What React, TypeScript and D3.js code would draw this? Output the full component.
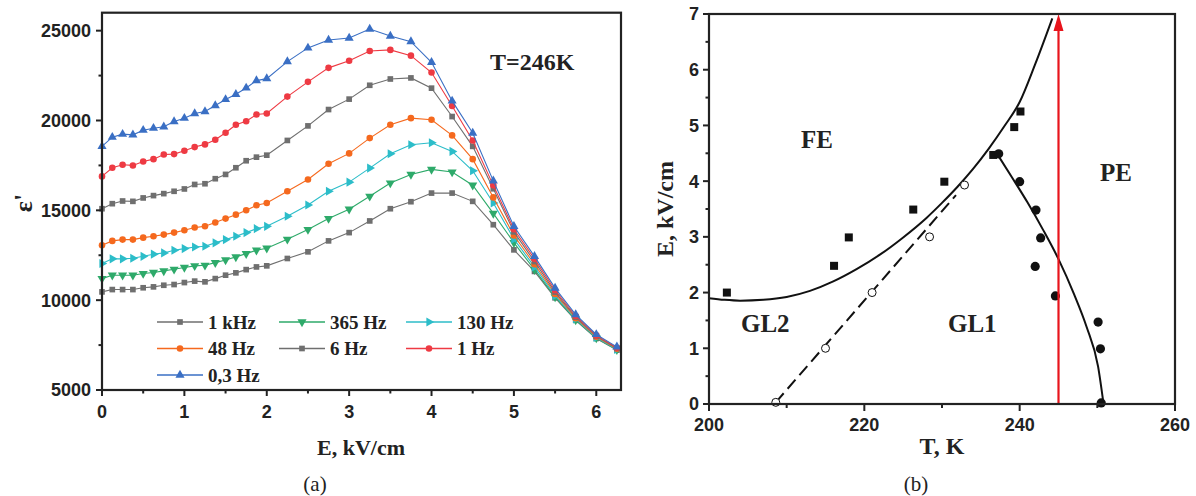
import React from 'react';
import * as d3 from 'd3';

// ---------- Panel (a) data ----------
const E_FIELD = [
  0, 0.125, 0.25, 0.375, 0.5, 0.625, 0.75, 0.875, 1.0, 1.125, 1.25, 1.375, 1.5, 1.625, 1.75, 1.875, 2.0,
  2.25, 2.5, 2.75, 3.0, 3.25, 3.5, 3.75, 4.0, 4.25, 4.5, 4.75, 5.0, 5.25, 5.5, 5.75, 6.0, 6.25,
];
const EPS_1KHZ = [10460, 10590, 10590, 10590, 10690, 10740, 10830, 10870, 10980, 11060, 11020, 11200, 11390, 11520, 11700, 11850, 11910, 12320, 12690, 13300, 13760, 14410, 15090, 15480, 15960, 15960, 15500, 14200, 12800, 11600, 10130, 8880, 7870, 7220];
const EPS_365HZ = [11200, 11390, 11390, 11390, 11480, 11540, 11630, 11720, 11820, 11910, 11940, 12090, 12240, 12410, 12590, 12780, 12890, 13390, 13930, 14540, 15060, 15780, 16520, 17000, 17280, 17130, 16400, 14830, 13200, 11700, 10180, 8900, 7890, 7240];
const EPS_130HZ = [12040, 12300, 12300, 12330, 12440, 12560, 12630, 12780, 12870, 12960, 13000, 13190, 13370, 13560, 13760, 13980, 14110, 14670, 15300, 16060, 16570, 17350, 18150, 18650, 18760, 18280, 17200, 15410, 13400, 11850, 10250, 8950, 7920, 7260];
const EPS_48HZ = [13060, 13300, 13370, 13370, 13480, 13560, 13650, 13760, 13890, 14040, 14110, 14320, 14540, 14760, 15000, 15280, 15410, 16060, 16720, 17590, 18170, 19020, 19760, 20130, 20040, 19170, 17850, 15720, 13600, 12000, 10350, 9000, 7960, 7290];
const EPS_6HZ = [15090, 15370, 15520, 15500, 15690, 15820, 15930, 16060, 16190, 16440, 16480, 16760, 17000, 17370, 17760, 17960, 18070, 18890, 19700, 20610, 21190, 21960, 22310, 22370, 21800, 20220, 18560, 16200, 13800, 12150, 10450, 9060, 8000, 7320];
const EPS_1HZ = [16890, 17370, 17540, 17500, 17720, 17850, 18110, 18130, 18320, 18520, 18670, 18930, 19320, 19760, 19960, 20330, 20390, 21330, 22150, 22930, 23330, 23870, 23930, 23610, 22670, 20810, 18890, 16390, 13950, 12300, 10550, 9120, 8040, 7350];
const EPS_03HZ = [18560, 19070, 19240, 19200, 19460, 19570, 19650, 19940, 20130, 20390, 20500, 20830, 21170, 21460, 21810, 22220, 22330, 23280, 24040, 24480, 24590, 25090, 24700, 24390, 23240, 21090, 19300, 16640, 14110, 12440, 10670, 9200, 8090, 7400];

const SERIES_NAMES = ['1 kHz', '365 Hz', '130 Hz', '48 Hz', '6 Hz', '1 Hz', '0,3 Hz'];
const SERIES_VALUES = [EPS_1KHZ, EPS_365HZ, EPS_130HZ, EPS_48HZ, EPS_6HZ, EPS_1HZ, EPS_03HZ];
const SERIES_COLORS = ['#6f6f6f', '#2eaa6a', '#2cbdc9', '#f5691e', '#6f6f6f', '#ee3a43', '#3a6fc4'];
const SERIES_SHAPES = ['square', 'down', 'right', 'circle', 'square', 'circle', 'up'];

const A_X_TICKS = [0, 1, 2, 3, 4, 5, 6];
const A_Y_TICKS = [5000, 10000, 15000, 20000, 25000];

// ---------- Panel (b) data ----------
const SQ_T = [202.3, 216.1, 218.0, 226.3, 230.3, 236.6, 239.3, 240.1];
const SQ_E = [2.0, 2.48, 2.99, 3.49, 3.99, 4.47, 4.97, 5.25];
const FC_T = [237.3, 240.0, 242.1, 242.7, 242.0, 244.6, 250.1, 250.4, 250.5];
const FC_E = [4.49, 3.99, 3.48, 2.98, 2.47, 1.94, 1.47, 0.99, 0.02];
const OC_T = [208.6, 215.0, 221.0, 228.4, 232.9];
const OC_E = [0.03, 1.0, 2.0, 3.0, 3.93];
const CURVE1_T = [200, 202, 204, 207, 210, 213, 216, 219, 222, 225, 228, 230, 232, 234, 236, 238, 240, 242, 244.2];
const CURVE1_E = [1.9, 1.87, 1.855, 1.87, 1.92, 2.03, 2.2, 2.42, 2.68, 2.99, 3.34, 3.61, 3.9, 4.22, 4.58, 4.98, 5.42, 6.1, 6.92];
const CURVE2_T = [237.1, 239, 241, 243, 245, 247, 248.6, 250.1, 250.8];
const CURVE2_E = [4.49, 4.07, 3.62, 3.13, 2.6, 1.97, 1.39, 0.67, 0.0];
const DASH_T = [208.6, 231.8];
const DASH_E = [0.03, 3.75];
const ARROW_T = 245;
const ARROW_E = [0, 7];

const B_X_TICKS = [200, 220, 240, 260];
const B_Y_TICKS = [0, 1, 2, 3, 4, 5, 6, 7];

const SERIF = "'Liberation Serif', 'Times New Roman', serif";
const SANS = "'Liberation Sans', Arial, sans-serif";

function Marker({ shape, x, y, color }: { shape: string; x: number; y: number; color: string }) {
  let type: any = d3.symbolSquare;
  let size = 32;
  let rot = 0;
  if (shape === 'circle') { type = d3.symbolCircle; size = 34; }
  if (shape === 'up') { type = d3.symbolTriangle; size = 36; }
  if (shape === 'down') { type = d3.symbolTriangle; size = 36; rot = 180; }
  if (shape === 'right') { type = d3.symbolTriangle; size = 36; rot = 90; }
  const d = d3.symbol().type(type).size(size)() || '';
  return <path d={d} transform={`translate(${x},${y}) rotate(${rot})`} fill={color} />;
}

function PanelA() {
  const x = d3.scaleLinear().domain([0, 6.3]).range([102, 621]);
  const y = d3.scaleLinear().domain([5000, 26000]).range([390, 12.7]);
  const line = d3.line<number>().x((_, i) => x(E_FIELD[i])).y((v) => y(v));
  const minorX = d3.range(0.5, 6.3, 1);
  const minorY = d3.range(7500, 26000, 5000);
  const legendColX = [157, 279, 406];
  const legendRowY = [322, 348.5, 375];
  return (
    <g>
      {SERIES_VALUES.map((vals, si) => (
        <g key={si}>
          <path d={line(vals) || ''} fill="none" stroke={SERIES_COLORS[si]} strokeWidth={1.1} />
          {vals.map((v, i) => (
            <Marker key={i} shape={SERIES_SHAPES[si]} x={x(E_FIELD[i])} y={y(v)} color={SERIES_COLORS[si]} />
          ))}
        </g>
      ))}
      <rect x={x(0)} y={y(26000)} width={x(6.3) - x(0)} height={y(5000) - y(26000)} fill="none" stroke="#222" strokeWidth={2.2} />
      {A_X_TICKS.map((t) => (
        <g key={t}>
          <line x1={x(t)} x2={x(t)} y1={y(5000)} y2={y(5000) + 6} stroke="#222" strokeWidth={2} />
          <text x={x(t)} y={418} textAnchor="middle" fontFamily={SANS} fontWeight="bold" fontSize={18} fill="#222">{t}</text>
        </g>
      ))}
      {minorX.map((t) => (
        <line key={t} x1={x(t)} x2={x(t)} y1={y(5000)} y2={y(5000) + 3.5} stroke="#222" strokeWidth={2} />
      ))}
      {A_Y_TICKS.map((t) => (
        <g key={t}>
          <line x1={x(0) - 6} x2={x(0)} y1={y(t)} y2={y(t)} stroke="#222" strokeWidth={2} />
          <text x={91} y={y(t)} dy="0.36em" textAnchor="end" fontFamily={SANS} fontWeight="bold" fontSize={18} fill="#222">{t}</text>
        </g>
      ))}
      {minorY.map((t) => (
        <line key={t} x1={x(0) - 3.5} x2={x(0)} y1={y(t)} y2={y(t)} stroke="#222" strokeWidth={2} />
      ))}
      <text x={361} y={455} textAnchor="middle" fontFamily={SERIF} fontWeight="bold" fontSize={22} fill="#222">E, kV/cm</text>
      <text transform="translate(24,203) rotate(-90)" textAnchor="middle" dy="0.3em" fontFamily={SERIF} fontWeight="bold" fontSize={26} fill="#222">ε'</text>
      <text x={490} y={70} fontFamily={SERIF} fontWeight="bold" fontSize={24} fill="#222">T=246K</text>
      <text x={315} y={491} textAnchor="middle" fontFamily={SERIF} fontSize={21} fill="#222">(a)</text>
      {SERIES_NAMES.map((name, i) => {
        const cx = legendColX[i % 3];
        const cy = legendRowY[Math.floor(i / 3)];
        return (
          <g key={name}>
            <line x1={cx} x2={cx + 46} y1={cy} y2={cy} stroke={SERIES_COLORS[i]} strokeWidth={1.5} />
            <Marker shape={SERIES_SHAPES[i]} x={cx + 23} y={cy} color={SERIES_COLORS[i]} />
            <text x={cx + 51} y={cy + 6.5} fontFamily={SERIF} fontWeight="bold" fontSize={19} fill="#222">{name}</text>
          </g>
        );
      })}
    </g>
  );
}

function PanelB() {
  const x = d3.scaleLinear().domain([200, 260]).range([709, 1175]);
  const y = d3.scaleLinear().domain([0, 7]).range([404, 14]);
  const c1 = d3.line<number>().x((t) => x(t)).y((_, i) => y(CURVE1_E[i])).curve(d3.curveMonotoneX);
  const c2 = d3.line<number>().x((t) => x(t)).y((_, i) => y(CURVE2_E[i])).curve(d3.curveMonotoneX);
  const minorX = [210, 230, 250];
  const minorY = d3.range(0.5, 7, 1);
  const ax = x(ARROW_T);
  const top = y(ARROW_E[1]);
  return (
    <g>
      <path d={c1(CURVE1_T) || ''} fill="none" stroke="#111" strokeWidth={2} />
      <path d={c2(CURVE2_T) || ''} fill="none" stroke="#111" strokeWidth={2} />
      <line x1={x(DASH_T[0])} y1={y(DASH_E[0])} x2={x(DASH_T[1])} y2={y(DASH_E[1])} stroke="#111" strokeWidth={2} strokeDasharray="12,6" />
      {SQ_T.map((t, i) => (
        <rect key={i} x={x(t) - 4} y={y(SQ_E[i]) - 4} width={8} height={8} fill="#111" />
      ))}
      {FC_T.map((t, i) => (
        <circle key={i} cx={x(t)} cy={y(FC_E[i])} r={4.6} fill="#111" />
      ))}
      {OC_T.map((t, i) => (
        <circle key={i} cx={x(t)} cy={y(OC_E[i])} r={4} fill="#fff" stroke="#111" strokeWidth={1} />
      ))}
      <line x1={ax} x2={ax} y1={y(ARROW_E[0])} y2={top + 14} stroke="#e8141c" strokeWidth={2.2} />
      <path d={`M${ax},${top} L${ax - 5},${top + 17} L${ax + 5},${top + 17} Z`} fill="#e8141c" />
      <rect x={x(200)} y={y(7)} width={x(260) - x(200)} height={y(0) - y(7)} fill="none" stroke="#222" strokeWidth={2.2} />
      {B_X_TICKS.map((t) => (
        <g key={t}>
          <line x1={x(t)} x2={x(t)} y1={y(0)} y2={y(0) + 7} stroke="#222" strokeWidth={2} />
          <text x={x(t)} y={431} textAnchor="middle" fontFamily={SANS} fontWeight="bold" fontSize={18} fill="#222">{t}</text>
        </g>
      ))}
      {minorX.map((t) => (
        <line key={t} x1={x(t)} x2={x(t)} y1={y(0)} y2={y(0) + 4} stroke="#222" strokeWidth={2} />
      ))}
      {B_Y_TICKS.map((t) => (
        <g key={t}>
          <line x1={x(200) - 6} x2={x(200)} y1={y(t)} y2={y(t)} stroke="#222" strokeWidth={2} />
          <text x={699} y={y(t)} dy="0.36em" textAnchor="end" fontFamily={SANS} fontWeight="bold" fontSize={18} fill="#222">{t}</text>
        </g>
      ))}
      {minorY.map((t) => (
        <line key={t} x1={x(200) - 3.5} x2={x(200)} y1={y(t)} y2={y(t)} stroke="#222" strokeWidth={2} />
      ))}
      <text x={942} y={454} textAnchor="middle" fontFamily={SERIF} fontWeight="bold" fontSize={24} fill="#222">T, K</text>
      <text transform="translate(665,209) rotate(-90)" textAnchor="middle" dy="0.35em" fontFamily={SERIF} fontWeight="bold" fontSize={24} fill="#222">E, kV/cm</text>
      <text x={801} y={148} fontFamily={SERIF} fontWeight="bold" fontSize={25} fill="#222">FE</text>
      <text x={1100} y={181} fontFamily={SERIF} fontWeight="bold" fontSize={25} fill="#222">PE</text>
      <text x={741} y={332} fontFamily={SERIF} fontWeight="bold" fontSize={25} fill="#222">GL2</text>
      <text x={948} y={332} fontFamily={SERIF} fontWeight="bold" fontSize={25} fill="#222">GL1</text>
      <text x={916} y={491} textAnchor="middle" fontFamily={SERIF} fontSize={21} fill="#222">(b)</text>
    </g>
  );
}

export default function App() {
  return (
    <svg width={1196} height={496} viewBox="0 0 1196 496" style={{ position: 'absolute', left: 0, top: 0, background: '#fff' }}>
      <rect x={0} y={0} width={1196} height={496} fill="#fff" />
      <PanelA />
      <PanelB />
    </svg>
  );
}
